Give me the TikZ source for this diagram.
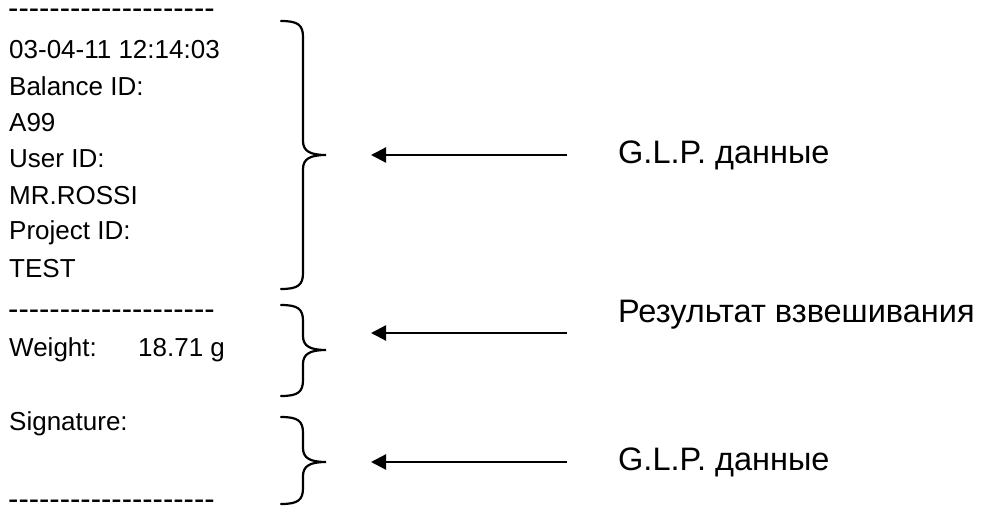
\documentclass[tikz,border=0pt]{standalone}
\usepackage{fontspec}
\setmainfont{Liberation Sans}
\usetikzlibrary{arrows.meta}
\newcommand{\hyph}{-\kern0pt}
\newcommand{\dashrow}{\raisebox{-8.4pt}[0pt][0pt]{\hyph\hyph\hyph\hyph\hyph\hyph\hyph\hyph\hyph\hyph\hyph\hyph\hyph\hyph\hyph\hyph\hyph\hyph\hyph\hyph}}
\tikzset{
  x=1pt,y=-1pt,
  lefttext/.style={anchor=west,inner sep=0pt,font=\fontsize{26}{26}\selectfont},
  dashtext/.style={anchor=west,inner sep=0pt,font=\fontsize{31}{31}\selectfont},
  righttext/.style={anchor=west,inner sep=0pt,font=\fontsize{32.5}{32.5}\selectfont},
  bracepath/.style={line width=2.2pt,line cap=round},
  pointer/.style={line width=2.2pt,-{Triangle[length=15pt,width=15pt]}}
}
\newcommand{\curlybrace}[3]{%
  \draw[bracepath] (281,#1) .. controls (298,#1) and (303,#1+4) .. (303,#1+16)
    -- (303,#2-14) .. controls (303,#2-4) and (310,#2) .. (326,#2)
    .. controls (310,#2) and (303,#2+4) .. (303,#2+14)
    -- (303,#3-16) .. controls (303,#3-4) and (298,#3) .. (281,#3);}
\begin{document}
\begin{tikzpicture}
\useasboundingbox (0,0) rectangle (989,506);
\node[dashtext] (d1) at (8,10) {\dashrow};
\node[lefttext] (l1) at (9,49.5) {03-04-11 12:14:03};
\node[lefttext] (l2) at (9,86) {Balance ID:};
\node[lefttext] (l3) at (9,122.5) {A99};
\node[lefttext] (l4) at (9,159) {User ID:};
\node[lefttext] (l5) at (9,196) {MR.ROSSI};
\node[lefttext] (l6) at (9,232.5) {Project ID:};
\node[lefttext] (l7) at (9,269) {TEST};
\node[dashtext] (d2) at (8,311) {\dashrow};
\node[lefttext] (w1) at (9,350) {Weight:};
\node[lefttext] (w2) at (138,350) {18.71 g};
\node[lefttext] (s1) at (9,424) {Signature:};
\node[dashtext] (d3) at (8,501) {\dashrow};

\curlybrace{21}{155}{289}
\curlybrace{305}{350}{396}
\curlybrace{417}{462}{504}

\coordinate (a1s) at (567,155); \coordinate (a1e) at (371,155);
\coordinate (a2s) at (567,333); \coordinate (a2e) at (371,333);
\coordinate (a3s) at (567,462); \coordinate (a3e) at (371,462);
\draw[pointer] (a1s) -- (a1e);
\draw[pointer] (a2s) -- (a2e);
\draw[pointer] (a3s) -- (a3e);

\node[righttext] (r1) at (618,155) {G.L.P. данные};
\node[righttext] (r2) at (618,315) {Результат взвешивания};
\node[righttext] (r3) at (618,462) {G.L.P. данные};
\end{tikzpicture}
\end{document}
